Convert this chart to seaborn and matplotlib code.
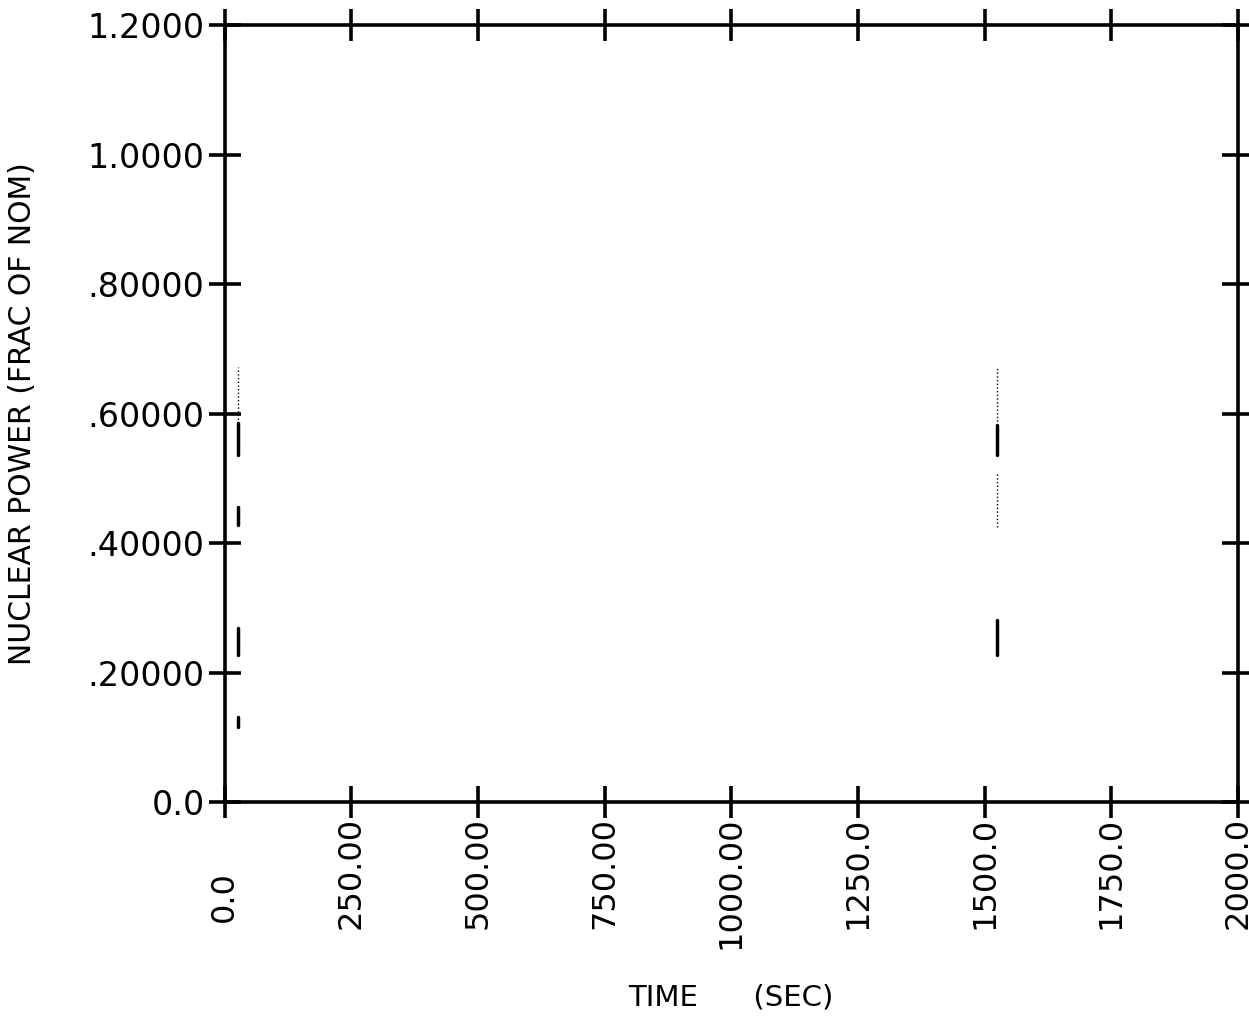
import matplotlib
matplotlib.use("Agg")
import matplotlib.pyplot as plt
import matplotlib.transforms as mtransforms
import seaborn as sns
import pandas as pd

# Axis ticks and labels
x_ticks = [0, 250, 500, 750, 1000, 1250, 1500, 1750, 2000]
x_tick_labels = ["0.0", "250.00", "500.00", "750.00", "1000.00", "1250.0", "1500.0", "1750.0", "2000.0"]
y_ticks = [0.0, 0.2, 0.4, 0.6, 0.8, 1.0, 1.2]
y_tick_labels = ["0.0", ".20000", ".40000", ".60000", ".80000", "1.0000", "1.2000"]

# Faint remnants of the trace (vertical segments), solid parts
solid_x = [26, 26, 26, 26, 1524, 1524]
solid_y0 = [0.536, 0.428, 0.227, 0.116, 0.536, 0.227]
solid_y1 = [0.585, 0.455, 0.269, 0.131, 0.582, 0.281]
# dotted parts
dot_x = [26, 1524, 1524]
dot_y0 = [0.585, 0.582, 0.425]
dot_y1 = [0.672, 0.672, 0.508]

sns.set_style("white")
plt.rcParams['font.family'] = ['DejaVu Sans']
plt.rcParams['text.color'] = 'black'
plt.rcParams['axes.labelcolor'] = 'black'

fig = plt.figure(figsize=(12.49, 10.17), dpi=100)
ax = fig.add_axes([0.180, 0.2114, 0.811, 0.764])

rows = []
for i, (x, a, b) in enumerate(zip(solid_x, solid_y0, solid_y1)):
    rows += [{"seg": i, "x": x, "y": a}, {"seg": i, "x": x, "y": b}]
df_s = pd.DataFrame(rows)
rows = []
for i, (x, a, b) in enumerate(zip(dot_x, dot_y0, dot_y1)):
    rows += [{"seg": i, "x": x, "y": a}, {"seg": i, "x": x, "y": b}]
df_d = pd.DataFrame(rows)

sns.lineplot(data=df_s, x="x", y="y", units="seg", estimator=None, sort=False,
             color="black", linewidth=2.5, ax=ax, legend=False)
sns.lineplot(data=df_d, x="x", y="y", units="seg", estimator=None, sort=False,
             color="black", linewidth=1.0, linestyle=":", ax=ax, legend=False)

ax.set_xlim(0, 2000)
ax.set_ylim(0, 1.2)
ax.set_xticks(x_ticks)
ax.set_xticklabels(x_tick_labels, rotation=90, fontsize=23, ha="center", va="top",
                   rotation_mode="default", color="black")
ax.set_yticks(y_ticks)
ax.set_yticklabels(y_tick_labels, fontsize=24, color="black")

for sp in ax.spines.values():
    sp.set_visible(True)
    sp.set_linewidth(2.6)
    sp.set_color("black")

ax.tick_params(axis="both", which="major", direction="inout", length=23, width=2.6,
               top=True, right=True, bottom=True, left=True, colors="black")
ax.tick_params(axis="x", pad=-1)
ax.tick_params(axis="y", pad=3)

# "0.0" label sits lower in the reference
lbl0 = ax.get_xticklabels()[0]
lbl0.set_transform(lbl0.get_transform() +
                   mtransforms.ScaledTranslation(0, -0.55, fig.dpi_scale_trans))

ax.set_xlabel("TIME      (SEC)", fontsize=21)
ax.set_ylabel("NUCLEAR POWER (FRAC OF NOM)", fontsize=21.5)
ax.xaxis.set_label_coords(0.50, -0.233)
ax.yaxis.set_label_coords(-0.185, 0.5)

fig.savefig("out.png", dpi=100, facecolor="white")
